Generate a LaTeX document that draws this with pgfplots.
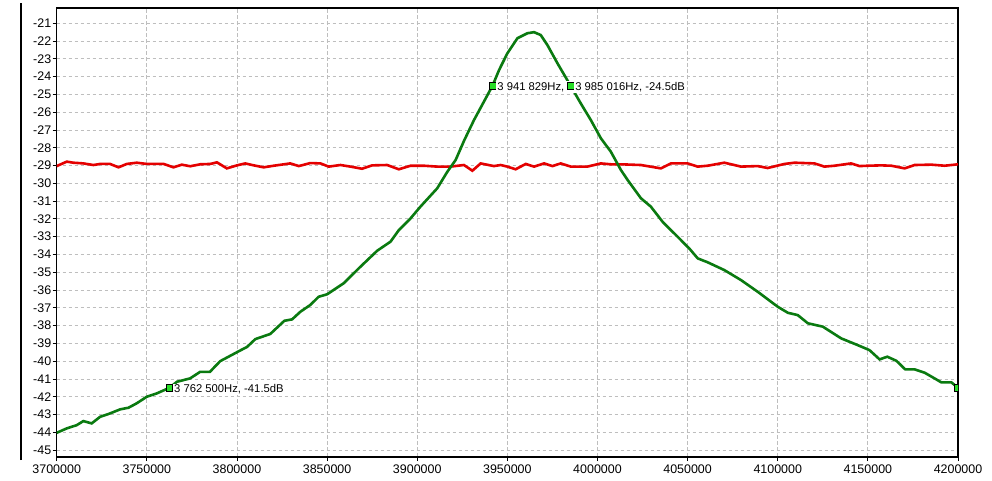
\documentclass[border=0pt]{standalone}
\usepackage{fontspec}
\setmainfont{Liberation Sans}
\usepackage{pgfplots}
\pgfplotsset{compat=1.18}

\definecolor{lvlred}{RGB}{228,0,0}
\definecolor{sweepgreen}{RGB}{10,122,16}
\definecolor{mkrgreen}{RGB}{40,222,40}
\definecolor{gridgray}{RGB}{190,190,190}

\tikzset{
    mkr/.style={only marks, mark=square*, mark size=3.4bp,
        mark options={fill=mkrgreen, draw=black, line width=0.7bp}},
    lbl/.style={anchor=west, xshift=3.6bp, yshift=-1.5bp, fill=white,
        inner sep=1bp, font=\fontsize{11.3}{13}\selectfont},
}

\begin{document}
\begin{tikzpicture}
\begin{axis}[
    scale only axis,
    width=901.3bp, height=449bp,
    xmin=3700000, xmax=4200000,
    ymin=-45.39, ymax=-20.14,
    xtick={3700000,3750000,3800000,3850000,3900000,3950000,4000000,4050000,4100000,4150000,4200000},
    xticklabels={3700000,3750000,3800000,3850000,3900000,3950000,4000000,4050000,4100000,4150000,4200000},
    ytick={-45,-44,-43,-42,-41,-40,-39,-38,-37,-36,-35,-34,-33,-32,-31,-30,-29,-28,-27,-26,-25,-24,-23,-22,-21},
    yticklabels={-45,-44,-43,-42,-41,-40,-39,-38,-37,-36,-35,-34,-33,-32,-31,-30,-29,-28,-27,-26,-25,-24,-23,-22,-21},
    scaled x ticks=false,
    tick pos=left,
    tick align=outside,
    major tick length=4bp,
    tick style={black, line width=0.8bp},
    grid=major,
    major grid style={gridgray, line width=0.8bp, dash pattern=on 3.5bp off 2.5bp},
    axis line style={black, line width=1.1bp},
    tick label style={font=\fontsize{12.5}{14}\selectfont},
    yticklabel style={xshift=2bp},
    clip marker paths=true,
]
% level trace
\addplot[lvlred, line width=2.6bp] coordinates {
(3700000,-29.03) (3705600,-28.78) (3709200,-28.84) (3714800,-28.88) (3720400,-28.97)
(3724100,-28.91) (3729600,-28.91) (3734300,-29.10) (3738900,-28.91) (3744400,-28.84)
(3750000,-28.91) (3759300,-28.91) (3764800,-29.10) (3769400,-28.95) (3774100,-29.04)
(3779600,-28.93) (3785200,-28.91) (3788900,-28.82) (3794400,-29.16) (3800000,-28.99)
(3804600,-28.88) (3809300,-28.99) (3814800,-29.10) (3820400,-29.01) (3829600,-28.88)
(3834300,-29.03) (3840700,-28.86) (3846300,-28.88) (3850900,-29.06) (3857400,-28.97)
(3863000,-29.06) (3869400,-29.18) (3875000,-28.99) (3883300,-28.97) (3889800,-29.21)
(3896300,-29.01) (3903700,-29.01) (3911100,-29.06) (3918500,-29.06) (3925900,-28.97)
(3930600,-29.29) (3935200,-28.88) (3942600,-29.03) (3946300,-28.97) (3950000,-29.06)
(3954600,-29.21) (3960200,-28.91) (3964800,-29.06) (3970400,-28.88) (3975000,-29.03)
(3979600,-28.88) (3985200,-29.06) (3994400,-29.06) (4001900,-28.88) (4007400,-28.93)
(4013000,-28.93) (4024100,-28.97) (4035200,-29.16) (4040700,-28.88) (4050000,-28.88)
(4055600,-29.06) (4061100,-29.01) (4070400,-28.84) (4075900,-28.97) (4079600,-29.06)
(4088900,-29.03) (4094400,-29.14) (4103700,-28.91) (4109300,-28.84) (4120400,-28.88)
(4125900,-29.06) (4131500,-29.01) (4140700,-28.88) (4145400,-29.03) (4150000,-29.01)
(4157400,-28.99) (4163000,-29.01) (4170400,-29.16) (4175900,-28.97) (4185200,-28.95)
(4192600,-29.01) (4200000,-28.93)
};
% sweep trace
\addplot[sweepgreen, line width=2.6bp] coordinates {
(3700000,-44.03) (3705600,-43.78) (3711100,-43.60) (3714800,-43.37) (3719400,-43.50)
(3724100,-43.13) (3729600,-42.94) (3735200,-42.71) (3739800,-42.62) (3744400,-42.37)
(3750000,-42.00) (3755600,-41.81) (3762500,-41.50) (3766700,-41.16) (3774000,-40.97)
(3779600,-40.60) (3785000,-40.60) (3790700,-40.00) (3801800,-39.40) (3805600,-39.20)
(3810200,-38.76) (3818500,-38.47) (3826300,-37.73) (3830600,-37.65) (3835200,-37.22)
(3840700,-36.84) (3845300,-36.38) (3850000,-36.24) (3859200,-35.62) (3868500,-34.69)
(3877800,-33.79) (3885200,-33.28) (3889800,-32.63) (3896300,-31.97) (3901800,-31.31)
(3911100,-30.28) (3916700,-29.35) (3921300,-28.69) (3926000,-27.60) (3931500,-26.44)
(3941829,-24.50) (3945400,-23.63) (3950000,-22.69) (3955600,-21.84) (3961100,-21.56)
(3964800,-21.50) (3968500,-21.66) (3972200,-22.22) (3977800,-23.25) (3985016,-24.50)
(3990700,-25.50) (3996300,-26.44) (4001900,-27.47) (4007400,-28.22) (4013000,-29.25)
(4016700,-29.81) (4024100,-30.84) (4029600,-31.31) (4036100,-32.16) (4044400,-33.00)
(4050900,-33.66) (4055600,-34.22) (4061100,-34.44) (4070400,-34.88) (4079600,-35.44)
(4088900,-36.10) (4100000,-36.94) (4105600,-37.28) (4111100,-37.41) (4116700,-37.87)
(4125000,-38.06) (4135200,-38.72) (4144400,-39.10) (4150900,-39.38) (4156500,-39.90)
(4160800,-39.75) (4165800,-39.98) (4170700,-40.46) (4175900,-40.46) (4181500,-40.65)
(4187000,-40.97) (4190700,-41.19) (4196300,-41.19) (4200000,-41.50)
};
% markers with readouts
\addplot[mkr] coordinates {(3762500,-41.5)};
\node[lbl] at (axis cs:3762500,-41.5) {3 762 500Hz, -41.5dB};
\addplot[mkr] coordinates {(3941829,-24.5)};
\node[lbl] at (axis cs:3941829,-24.5) {3 941 829Hz, -24.5dB};
\addplot[mkr] coordinates {(3985016,-24.5)};
\node[lbl] at (axis cs:3985016,-24.5) {3 985 016Hz, -24.5dB};
\addplot[mkr] coordinates {(4200000,-41.5)};
\coordinate (sw) at (rel axis cs:0,0);
\end{axis}
\draw[black, line width=1.1bp] ([xshift=-35.7bp,yshift=-3bp]sw) -- ([xshift=-35.7bp,yshift=454bp]sw);
\pgfresetboundingbox
\path[use as bounding box] ([xshift=-56.7bp,yshift=-24bp]sw) rectangle ([xshift=935.3bp,yshift=457bp]sw);
\end{tikzpicture}
\end{document}
